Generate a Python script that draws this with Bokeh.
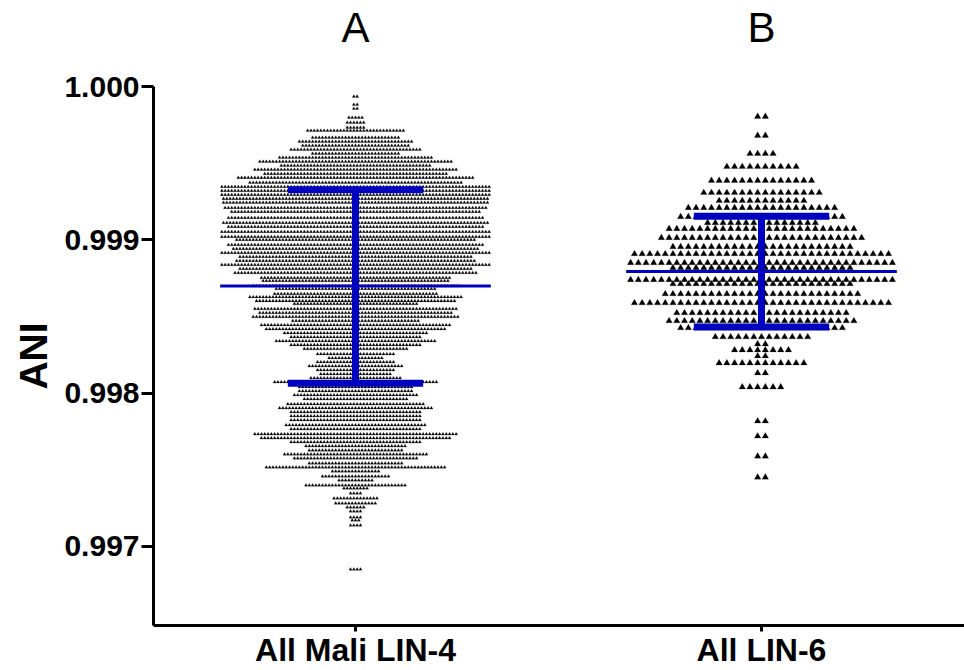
from bokeh.plotting import figure
from bokeh.models import Range1d, FixedTicker, NumeralTickFormatter, LinearAxis, ColumnDataSource
from bokeh.embed import file_html
from bokeh.resources import INLINE

# ---------------- data ----------------
categories = ["All Mali LIN-4", "All LIN-6"]
panel_titles = ["A", "B"]

# group A: ANI value of each swarm row and number of points in that row
a_ani = [0.999935, 0.999882, 0.999856, 0.999797, 0.999765, 0.999732, 0.999712, 0.999667,
         0.999641, 0.999614, 0.999588, 0.999562, 0.999536, 0.999510, 0.999484, 0.999458,
         0.999431, 0.999405, 0.999373, 0.999346, 0.999320, 0.999294, 0.999268, 0.999242,
         0.999209, 0.999183, 0.999144, 0.999111, 0.999085, 0.999052, 0.999020, 0.999000,
         0.998967, 0.998941, 0.998915, 0.998889, 0.998863, 0.998837, 0.998810, 0.998784,
         0.998752, 0.998732, 0.998699, 0.998680, 0.998647, 0.998627, 0.998601, 0.998582,
         0.998549, 0.998523, 0.998497, 0.998471, 0.998444, 0.998418, 0.998392, 0.998366,
         0.998340, 0.998314, 0.998288, 0.998255, 0.998229, 0.998203, 0.998176, 0.998150,
         0.998124, 0.998098, 0.998072, 0.998039, 0.998013, 0.997987, 0.997961, 0.997928,
         0.997902, 0.997876, 0.997850, 0.997824, 0.997791, 0.997765, 0.997732, 0.997706,
         0.997680, 0.997654, 0.997627, 0.997601, 0.997575, 0.997542, 0.997516, 0.997490,
         0.997457, 0.997431, 0.997399, 0.997379, 0.997346, 0.997314, 0.997281, 0.997255,
         0.997229, 0.997190, 0.997170, 0.997137, 0.996850]
a_count = [2, 2, 2, 5, 6, 6, 30, 27,
           35, 33, 40, 27, 47, 59, 46, 62,
           56, 72, 65, 82, 82, 82, 81, 81,
           80, 76, 78, 81, 78, 82, 82, 73,
           78, 75, 82, 71, 73, 82, 71, 74,
           58, 57, 63, 49, 50, 65, 61, 38,
           62, 59, 63, 39, 58, 55, 44, 40,
           49, 40, 32, 24, 17, 24, 29, 24,
           22, 28, 50, 35, 35, 38, 32, 42,
           47, 40, 40, 40, 43, 40, 62, 58,
           40, 31, 29, 44, 38, 29, 55, 15,
           21, 11, 31, 8, 4, 14, 13, 6,
           4, 4, 3, 4, 4]

# group B
b_ani = [0.999804, 0.999680, 0.999562, 0.999477, 0.999386, 0.999307, 0.999255, 0.999209,
         0.999150, 0.999111, 0.999072, 0.999013, 0.998954, 0.998908, 0.998850, 0.998817,
         0.998739, 0.998712, 0.998647, 0.998588, 0.998523, 0.998471, 0.998425, 0.998366,
         0.998320, 0.998281, 0.998242, 0.998196, 0.998131, 0.998039, 0.997817, 0.997719,
         0.997588, 0.997451]
b_count = [2, 2, 4, 10, 14, 16, 12, 20,
           22, 15, 25, 27, 24, 34, 35, 24,
           35, 24, 26, 34, 23, 25, 22, 13,
           2, 8, 2, 12, 2, 6, 2, 2,
           2, 2]

# mean and +/- SD bars
means = [0.998699, 0.998794]
sd_upper = [0.999327, 0.999154]
sd_lower = [0.998065, 0.998431]

y_ticks = [0.997, 0.998, 0.999, 1.000]

# ---------------- layout (positions only) ----------------
centers = [0, 1]
px_per_unit = 406.0
pitches = [3.3 / px_per_unit, 7.7 / px_per_unit]
sizes = [3.2, 6.5]


def swarm(center, ani, count, pitch):
    xs, ys = [], []
    for v, n in zip(ani, count):
        for i in range(n):
            xs.append(center + (i - (n - 1) / 2.0) * pitch)
            ys.append(v)
    return xs, ys


FONT = "Liberation Sans"

p = figure(width=964, height=670,
           x_range=Range1d(-0.4975, 1.5), y_range=Range1d(0.996484, 1.0),
           output_backend="svg", toolbar_location=None,
           min_border_left=153, min_border_right=0, min_border_top=86, min_border_bottom=0)
p.outline_line_color = None
p.grid.visible = False
p.background_fill_color = "white"
p.border_fill_color = "white"

for c, ani, cnt, pitch, sz in zip(centers, [a_ani, b_ani], [a_count, b_count], pitches, sizes):
    xs, ys = swarm(c, ani, cnt, pitch)
    src = ColumnDataSource(dict(x=xs, y=ys))
    p.scatter("x", "y", source=src, marker="triangle", size=sz,
              fill_color="black", line_color="black", line_width=0.2)

BLUE = "#0000C0"
mean_src = ColumnDataSource(dict(x0=[c - 1 / 3 for c in centers], x1=[c + 1 / 3 for c in centers], y=means))
p.segment(x0="x0", y0="y", x1="x1", y1="y", source=mean_src, line_color=BLUE, line_width=3)
vert_src = ColumnDataSource(dict(x=centers, lo=sd_lower, hi=sd_upper))
p.segment(x0="x", y0="lo", x1="x", y1="hi", source=vert_src, line_color=BLUE, line_width=7)
cap_src = ColumnDataSource(dict(x0=[c - 1 / 6 for c in centers] * 2, x1=[c + 1 / 6 for c in centers] * 2,
                                y=sd_upper + sd_lower))
p.segment(x0="x0", y0="y", x1="x1", y1="y", source=cap_src, line_color=BLUE, line_width=7)

# axes
p.yaxis.ticker = FixedTicker(ticks=y_ticks)
p.yaxis.formatter = NumeralTickFormatter(format="0.000")
p.yaxis.minor_tick_line_color = None
p.yaxis.major_tick_in = 0
p.yaxis.major_tick_out = 12
p.yaxis.major_label_standoff = 2
p.yaxis.axis_line_width = 3
p.yaxis.major_tick_line_width = 3
p.yaxis.major_label_text_font = FONT
p.yaxis.major_label_text_font_style = "bold"
p.yaxis.major_label_text_font_size = "30px"
p.yaxis.major_label_text_color = "black"
p.yaxis.axis_label = "ANI"
p.yaxis.axis_label_text_font = FONT
p.yaxis.axis_label_text_font_style = "bold"
p.yaxis.axis_label_text_font_size = "39px"
p.yaxis.axis_label_standoff = 6
p.yaxis.axis_label_text_color = "black"

p.xaxis.ticker = FixedTicker(ticks=centers)
p.xaxis.major_label_overrides = {0: categories[0], 1: categories[1]}
p.xaxis.minor_tick_line_color = None
p.xaxis.major_tick_in = 0
p.xaxis.major_tick_out = 6
p.xaxis.major_label_standoff = 0
p.xaxis.axis_line_width = 3
p.xaxis.major_tick_line_width = 3
p.xaxis.major_label_text_font = FONT
p.xaxis.major_label_text_font_style = "bold"
p.xaxis.major_label_text_font_size = "32px"
p.xaxis.major_label_text_color = "black"

# panel letters as an axis above the plot
top_axis = LinearAxis(ticker=FixedTicker(ticks=centers),
                      major_label_overrides={0: panel_titles[0], 1: panel_titles[1]},
                      axis_line_color=None, major_tick_line_color=None, minor_tick_line_color=None,
                      major_tick_in=0, major_tick_out=0, major_label_standoff=36,
                      major_label_text_font=FONT, major_label_text_font_size="42px",
                      major_label_text_color="black")
p.add_layout(top_axis, "above")

open("out.html", "w").write(file_html(p, INLINE))
